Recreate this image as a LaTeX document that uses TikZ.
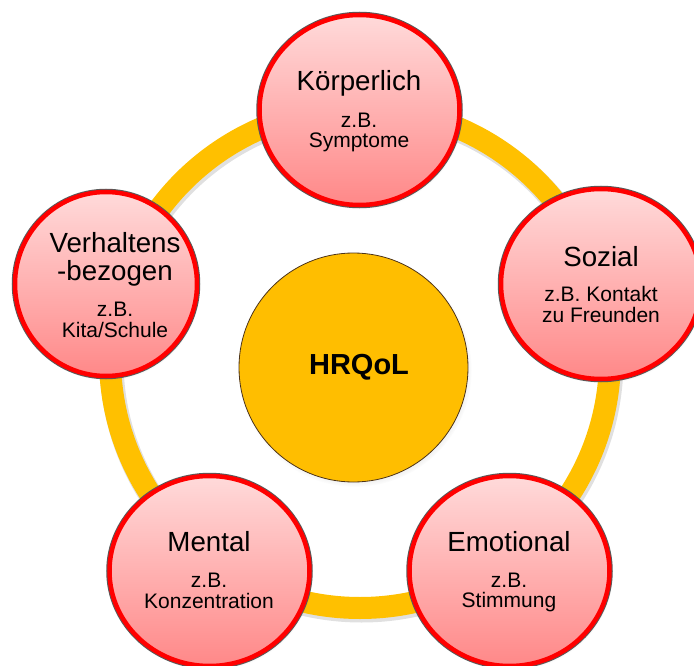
\documentclass[tikz,border=0pt]{standalone}
\usepackage{fontspec}
\setmainfont{Liberation Sans}
\usetikzlibrary{shapes.geometric,shadows}
\definecolor{ringgold}{HTML}{FFC000}
\definecolor{coregold}{HTML}{FFBE00}
\definecolor{facetred}{HTML}{FF0000}
\definecolor{pinktop}{HTML}{FFDADA}
\definecolor{pinkbot}{HTML}{FF8888}
\begin{document}
\begin{tikzpicture}[x=1pt,y=-1pt,
  facet/.style={ellipse, inner sep=0pt, minimum width=200pt, minimum height=190pt,
    circular drop shadow={shadow xshift=1.5pt, shadow yshift=-2.5pt, shadow scale=1.02, opacity=0.35},
    preaction={draw=black!65, line width=6.5pt},
    top color=pinktop, bottom color=pinkbot, draw=facetred, line width=4.5pt},
  core/.style={circle, inner sep=0pt, minimum size=229pt, fill=coregold,
    draw=black!60!brown, line width=0.8pt,
    circular drop shadow={shadow xshift=1.5pt, shadow yshift=-2.5pt, shadow scale=1.02, opacity=0.35}},
  ring/.style={draw=ringgold, line width=22pt},
  ringshadow/.style={draw=black, opacity=0.12, line width=24pt},
  title/.style={font=\fontsize{27.7}{29}\selectfont, anchor=base, inner sep=0pt},
  sub/.style={font=\fontsize{21}{20}\selectfont, anchor=base, inner sep=0pt},
  coretext/.style={font=\fontsize{29}{30}\selectfont\bfseries, anchor=base, inner sep=0pt}]
\useasboundingbox (0,0) rectangle (694,666);

% the ring linking the five facets
\coordinate (rc) at (360,358);
\coordinate (rcs) at (361.5,360.5);
\draw[ringshadow] (rcs) circle [radius=250pt];
\draw[ring] (rc) circle [radius=250pt];

% centre
\node[core] (hrqol) at (353.5,367.5) {};
\node[coretext] (hrqol-t) at (359,374) {HRQoL};

% facets
\node[facet] (k) at (359.5,110) {};
\node[title] (k-t) at (359,90.7) {Körperlich};
\node[sub] (k-s1) at (359,128) {z.B.};
\node[sub] (k-s2) at (359,148) {Symptome};

\node[facet] (s) at (601,284) {};
\node[title] (s-t) at (601,266.7) {Sozial};
\node[sub] (s-s1) at (601,301.7) {z.B. Kontakt};
\node[sub] (s-s2) at (601,322.7) {zu Freunden};

\node[facet] (e) at (509.5,571) {};
\node[title] (e-t) at (509,551.5) {Emotional};
\node[sub] (e-s1) at (509,587) {z.B.};
\node[sub] (e-s2) at (509,607) {Stimmung};

\node[facet] (m) at (209.5,571) {};
\node[title] (m-t) at (209,551.5) {Mental};
\node[sub] (m-s1) at (209,587.5) {z.B.};
\node[sub] (m-s2) at (209,608) {Konzentration};

\node[facet, minimum width=182pt, minimum height=184pt] (v) at (106,284) {};
\node[title] (v-t1) at (115,252.7) {Verhaltens};
\node[title] (v-t2) at (115,280.5) {-bezogen};
\node[sub] (v-s1) at (115,316.7) {z.B.};
\node[sub] (v-s2) at (115,337) {Kita/Schule};
\end{tikzpicture}
\end{document}
